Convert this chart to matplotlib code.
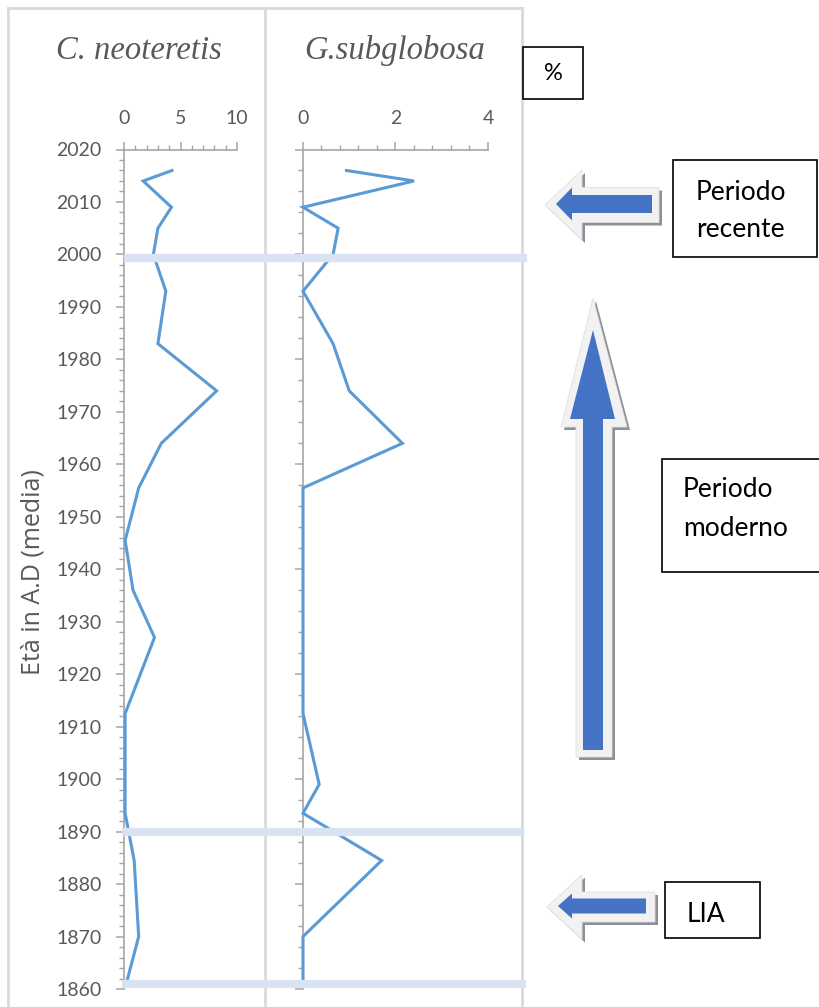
import matplotlib
matplotlib.use("Agg")
import matplotlib.pyplot as plt
from matplotlib.lines import Line2D
from matplotlib.patches import Polygon, Rectangle
from matplotlib.ticker import MultipleLocator
import matplotlib.transforms as mtransforms

# ---------------- data ----------------
years = [2016, 2014, 2009, 2005, 2000, 1993, 1983, 1974, 1964, 1955.5,
         1945.5, 1936, 1927, 1912.5, 1899, 1893.5, 1884.5, 1870, 1861]
c_neoteretis = [4.25, 1.7, 4.2, 3.0, 2.6, 3.7, 3.0, 8.2, 3.3, 1.3,
                0.1, 0.8, 2.7, 0.1, 0.1, 0.1, 0.9, 1.3, 0.2]
g_subglobosa = [0.94, 2.4, 0.0, 0.76, 0.65, 0.0, 0.65, 1.0, 2.15, 0.0,
                0.0, 0.0, 0.0, 0.0, 0.35, 0.0, 1.7, 0.0, 0.0]
titles = ["C. neoteretis", "G.subglobosa"]
boundary_years = [1999.4, 1890, 1861]
ylabel = "Età in A.D (media)"

W, H = 820, 1007
fig = plt.figure(figsize=(W / 100, H / 100), dpi=100)
fig.patch.set_facecolor("white")


def fx(x):
    return x / W


def fy(y):
    return 1 - y / H


GRAY_TXT = "#595959"
SPINE = "#A6A6A6"
LINE_C = "#5B9BD5"
FONT = "Lato"

# axes placement (pixel coords of data range)
y_top, y_bot = 149.5, 989
ax1 = fig.add_axes([fx(124), fy(y_bot), (237 - 124) / W, (y_bot - y_top) / H])
ax2 = fig.add_axes([fx(303), fy(y_bot), (488 - 303) / W, (y_bot - y_top) / H])

for ax, vals, xmax, xmaj, xmin, ymaj, ymin in [
        (ax1, c_neoteretis, 10, 5, 1, 10, 2),
        (ax2, g_subglobosa, 4, 2, 0.4, 20, 4)]:
    ax.plot(vals, years, color=LINE_C, lw=2.2, clip_on=False, zorder=3,
            solid_joinstyle="miter")
    ax.set_xlim(0, xmax)
    ax.set_ylim(1860, 2020)
    ax.patch.set_alpha(0)
    for s in ["right", "bottom"]:
        ax.spines[s].set_visible(False)
    for s in ["left", "top"]:
        ax.spines[s].set_color(SPINE)
        ax.spines[s].set_linewidth(1.2)
    ax.xaxis.set_ticks_position("top")
    ax.xaxis.set_label_position("top")
    ax.xaxis.set_major_locator(MultipleLocator(xmaj))
    ax.xaxis.set_minor_locator(MultipleLocator(xmin))
    ax.yaxis.set_major_locator(MultipleLocator(ymaj))
    ax.yaxis.set_minor_locator(MultipleLocator(ymin))
    ax.tick_params(axis="both", which="major", direction="out", length=6,
                   width=1.1, color=SPINE, labelcolor=GRAY_TXT, labelsize=14)
    ax.tick_params(axis="both", which="minor", direction="out", length=3.5,
                   width=1.0, color=SPINE)
    ax.tick_params(axis="x", which="major", pad=10)
    ax.tick_params(axis="y", which="major", pad=10)
    for lab in ax.get_xticklabels() + ax.get_yticklabels():
        lab.set_family(FONT)

ax2.tick_params(axis="y", labelleft=False)

# titles
fig.text(fx(139), fy(59), titles[0], family="Liberation Serif", style="italic",
         size=23.5, color=GRAY_TXT, ha="center", va="baseline")
fig.text(fx(395), fy(59), titles[1], family="Liberation Serif", style="italic",
         size=23.5, color=GRAY_TXT, ha="center", va="baseline")

fig.text(fx(33), fy(572), ylabel, family="Open Sans", size=18,
         color=GRAY_TXT, rotation=90, ha="center", va="center")

# chart area borders
BORDER = "#D9D9D9"
for (x0, y0, x1, y1) in [(8, 8, 522, 8), (8, 8, 8, H), (265, 8, 265, H),
                         (522, 8, 522, H)]:
    fig.add_artist(Line2D([fx(x0), fx(x1)], [fy(y0), fy(y1)],
                          transform=fig.transFigure, color=BORDER, lw=2.0,
                          zorder=1))

# boundary bands
blend = mtransforms.blended_transform_factory(fig.transFigure, ax1.transData)
band_x = [(124, 527), (122, 523), (122, 526)]
for yr, (xa, xb) in zip(boundary_years, band_x):
    fig.add_artist(Line2D([fx(xa), fx(xb)], [yr, yr], transform=blend,
                          color="#DAE3F3", lw=6, solid_capstyle="butt",
                          zorder=6))


# arrows
def left_arrow(tip, ty, hx, hh, sh, tail):
    return [(tip, ty), (hx, ty - hh), (hx, ty - sh), (tail, ty - sh),
            (tail, ty + sh), (hx, ty + sh), (hx, ty + hh)]


def up_arrow(cx, tip, base, hl, hr, sl, sr, bottom):
    return [(cx, tip), (hr, base), (sr, base), (sr, bottom), (sl, bottom),
            (sl, base), (hl, base)]


def draw_arrow(outer, inner):
    sh = [(x + 3, y + 3) for x, y in outer]
    for pts, fc, ec in [(sh, "#8C9099", "none"), (outer, "#F2F2F2", "#E0E0E0"),
                        (inner, "#4472C4", "none")]:
        fig.add_artist(Polygon([(fx(x), fy(y)) for x, y in pts], closed=True,
                               transform=fig.transFigure, fc=fc, ec=ec,
                               lw=0.6, zorder=7))


draw_arrow(left_arrow(545, 205, 582, 35, 17.5, 659),
           left_arrow(556, 204, 572, 16.5, 9, 652))
draw_arrow(left_arrow(547, 907, 582, 32.5, 15, 655),
           left_arrow(558, 906, 572, 12.5, 7.5, 646))
draw_arrow(up_arrow(593, 298, 427, 561, 627, 576, 612, 757),
           up_arrow(593, 330, 419, 570, 615, 583, 603, 750))


# text boxes
def box(x0, y0, x1, y1):
    fig.add_artist(Rectangle((fx(x0), fy(y1)), (x1 - x0) / W, (y1 - y0) / H,
                             transform=fig.transFigure, fc="white",
                             ec="black", lw=1.2, zorder=7))


box(523, 47, 583, 99)
fig.text(fx(553), fy(74), "%", family=FONT, size=17, ha="center",
         va="center", zorder=8)
box(673, 160, 817, 257)
fig.text(fx(696), fy(200), "Periodo", family=FONT, size=19, va="baseline",
         zorder=8)
fig.text(fx(696), fy(237), "recente", family=FONT, size=19, va="baseline",
         zorder=8)
box(662, 459, 825, 572)
fig.text(fx(683), fy(497), "Periodo", family=FONT, size=19, va="baseline",
         zorder=8)
fig.text(fx(683), fy(536), "moderno", family=FONT, size=19, va="baseline",
         zorder=8)
box(665, 882, 760, 938)
fig.text(fx(687), fy(922), "LIA", family=FONT, size=19, va="baseline",
         zorder=8)

fig.savefig("out.png", dpi=100, facecolor="white")
